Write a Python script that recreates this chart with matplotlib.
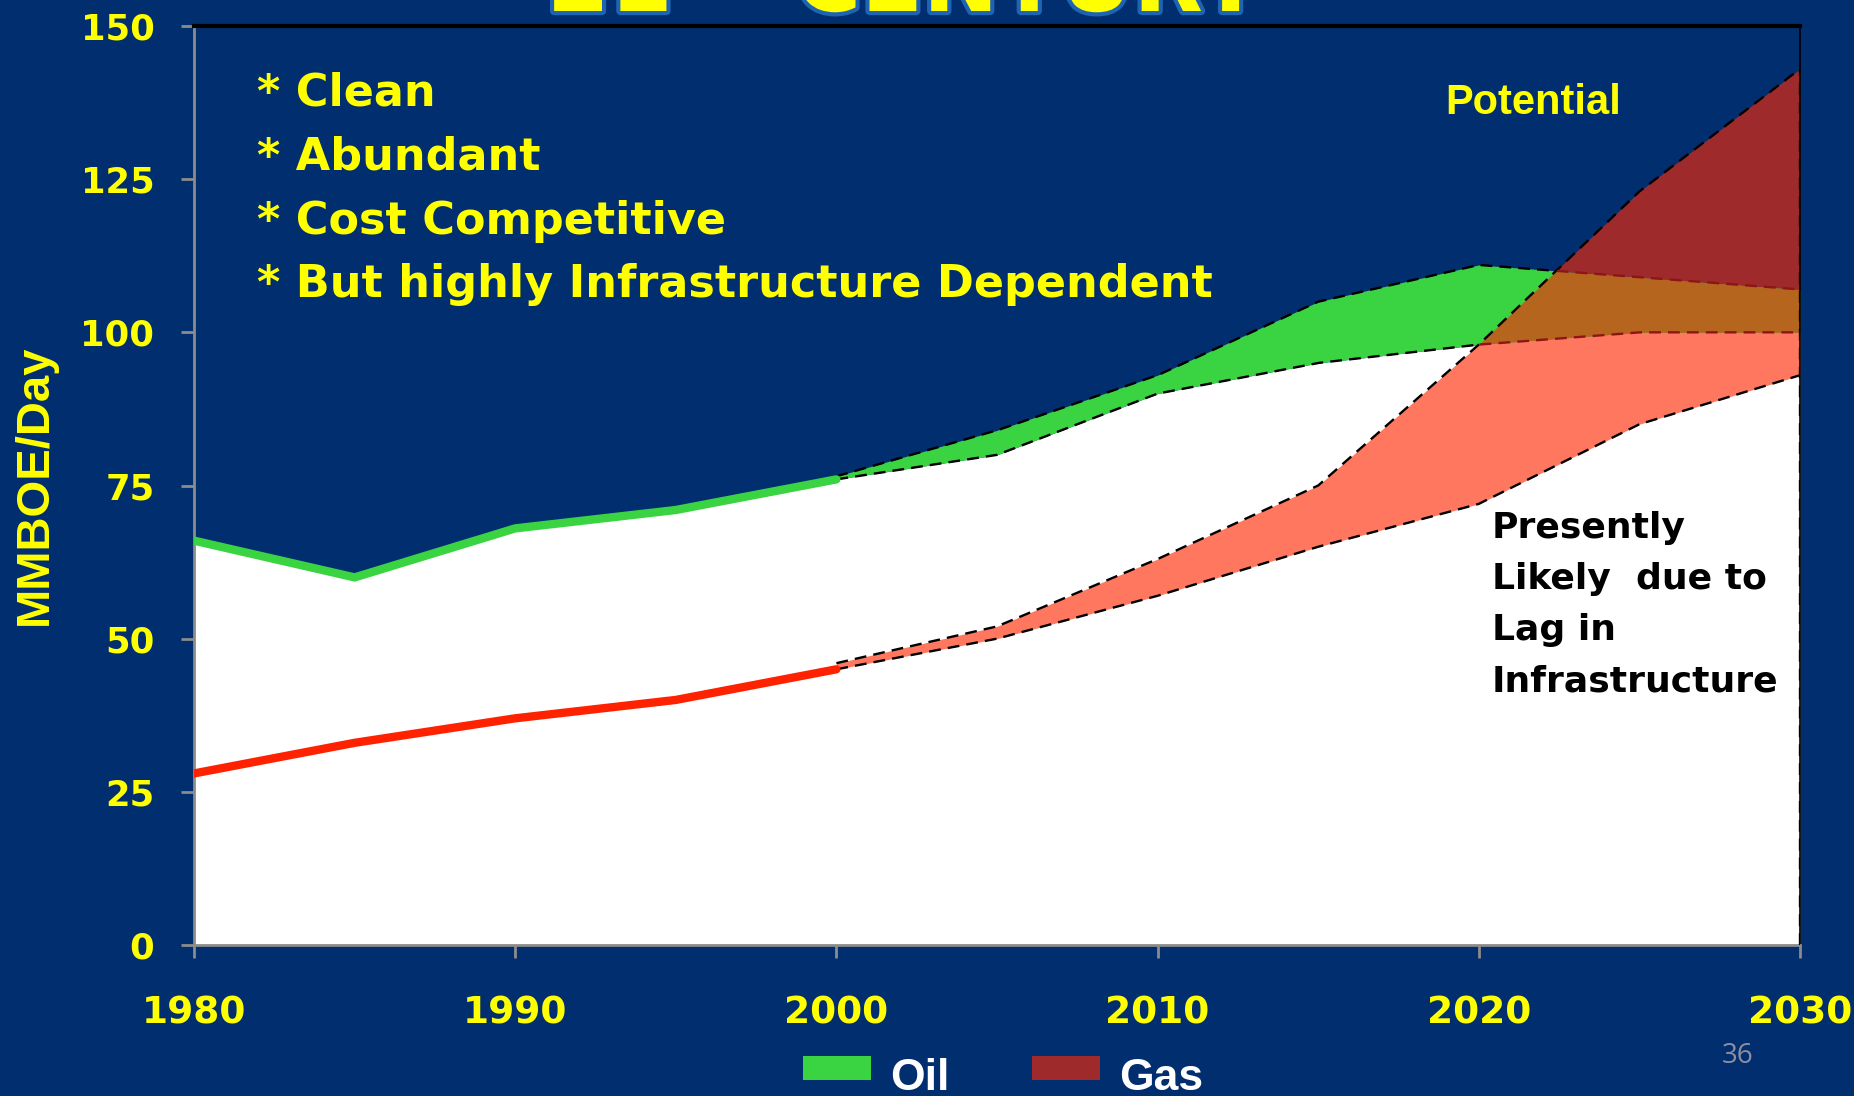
import matplotlib.pyplot as plt
import matplotlib.patheffects as pe
from matplotlib.patches import Rectangle
import numpy as np

# historical supply, MMBOE/day
years_hist = [1980, 1985, 1990, 1995, 2000]
oil_hist = [66, 60, 68, 71, 76]
gas_hist = [28, 33, 37, 40, 45]

# projections: "potential" (upper) and "likely" (lower) bounds
years_proj = [2000, 2005, 2010, 2015, 2020, 2025, 2030]
oil_potential = [76.5, 84, 93, 105, 111, 109, 107]
oil_likely = [76, 80, 90, 95, 98, 100, 100]
gas_potential = [46, 52, 63, 75, 98, 123, 143]
gas_likely = [45, 50, 57, 65, 72, 85, 93]

bullets = ["* Clean", "* Abundant", "* Cost Competitive",
           "* But highly Infrastructure Dependent"]
note_lines = ["Presently", "Likely  due to", "Lag in", "Infrastructure"]

NAVY = "#012E6F"
GREEN = "#3AD341"
SALMON = "#FF775E"
ORANGE = "#B5651D"
DARKRED = "#9E2A2B"
YELLOW = "#FFFF00"

plt.rcParams["font.family"] = ["DejaVu Sans"]
plt.rcParams["font.weight"] = "bold"

W, H = 1854, 1096
fig = plt.figure(figsize=(W / 100, H / 100), dpi=100, facecolor=NAVY)
ax = fig.add_axes([194 / W, 1 - 945 / H, (1800 - 194) / W, (945 - 26) / H], facecolor=NAVY)
ax.set_xlim(1980, 2030)
ax.set_ylim(0, 150)

# white area under the totals (history joined to the likely case)
years_all = years_hist + years_proj[1:]
total_all = oil_hist + oil_likely[1:]
ax.fill_between(years_all, 0, total_all, color="white", lw=0, zorder=1)

# bands on a fine grid so the overlaps can be split cleanly
xx = np.linspace(2000, 2030, 1201)
op = np.interp(xx, years_proj, oil_potential)
ol = np.interp(xx, years_proj, oil_likely)
gp = np.interp(xx, years_proj, gas_potential)
gl = np.interp(xx, years_proj, gas_likely)

ax.fill_between(xx, ol, op, where=op > ol, interpolate=True, color=GREEN, lw=0, zorder=1.2)
top = np.minimum(gp, ol)
ax.fill_between(xx, gl, top, where=top > gl, interpolate=True, color=SALMON, lw=0, zorder=1.2)
top = np.minimum(op, gp)
ax.fill_between(xx, ol, top, where=top > ol, interpolate=True, color=ORANGE, lw=0, zorder=1.3)
ax.fill_between(xx, op, gp, where=gp > op, interpolate=True, color=DARKRED, lw=0, zorder=1.3)

# dashed outlines of the bands
dash = dict(lw=1.7, dashes=(5, 3), zorder=4)
ax.plot(years_proj, gas_potential, color="black", **dash)
ax.plot(years_proj, gas_likely, color="black", **dash)
for line in (op, ol):
    inside = gp > line + 0.05
    ax.plot(xx, np.where(inside, np.nan, line), color="black", **dash)
    ax.plot(xx, np.where(inside, line, np.nan), color="#8E1515", **dash)
ax.vlines(2030, 0, gas_potential[-1], color="black", linestyles=(0, (5, 3)), lw=1.7, zorder=4)

# historical lines
ax.plot(years_hist, oil_hist, color=GREEN, lw=6, solid_capstyle="round",
        solid_joinstyle="round", zorder=5)
ax.plot(years_hist, gas_hist, color="#FF2200", lw=6, solid_capstyle="round",
        solid_joinstyle="round", zorder=5)

# axes styling
for side in ("left", "bottom"):
    ax.spines[side].set_color("#8C8C8C")
    ax.spines[side].set_linewidth(2)
ax.spines["top"].set_color("black")
ax.spines["top"].set_linewidth(3)
ax.spines["right"].set_color("black")
ax.spines["right"].set_linewidth(1.2)
ax.set_xticks(range(1980, 2031, 10))
ax.set_yticks(range(0, 151, 25))
ax.tick_params(colors="#8C8C8C", length=9.5, width=2, labelcolor=YELLOW)
ax.tick_params(axis="y", pad=19, labelsize=25.5)
ax.tick_params(axis="x", pad=27, labelsize=27)

fig.text(35 / W, 1 - 485 / H, "MMBOE/Day", rotation=90, color=YELLOW,
         fontsize=34, ha="center", va="center",
         family=["Liberation Sans", "DejaVu Sans"])

# heading, mostly off the top edge
glow = [pe.withStroke(linewidth=6, foreground="#1E64B4")]
fig.text(547 / W, 1 - 11 / H, "21", color=YELLOW, fontsize=65, va="baseline",
         path_effects=glow)
fig.text(795 / W, 1 - 11 / H, "CENTURY", color=YELLOW, fontsize=65, va="baseline",
         path_effects=glow)

for i, s in enumerate(bullets):
    fig.text(257 / W, 1 - (106 + 63.8 * i) / H, s, color=YELLOW, fontsize=32,
             va="baseline")

fig.text(1445 / W, 1 - 113.5 / H, "Potential", color=YELLOW, fontsize=30,
         va="baseline", family=["Liberation Sans", "DejaVu Sans"])

for i, s in enumerate(note_lines):
    fig.text(1492 / W, 1 - (538 + 51 * i) / H, s, color="black", fontsize=26,
             va="baseline")

# legend
for x0, label, col in ((803, "Oil", GREEN), (1032, "Gas", DARKRED)):
    fig.add_artist(Rectangle((x0 / W, 1 - 1080 / H), 68 / W, 24 / H,
                             transform=fig.transFigure, color=col, lw=0))
    fig.text((x0 + 87) / W, 1 - 1090 / H, label, color="white", fontsize=32,
             va="baseline", family=["Liberation Sans", "DejaVu Sans"])

fig.text(1738 / W, 1 - 1056 / H, "36", color="#8E8EA0", fontsize=20,
         fontweight="normal", ha="center", va="center", family=["Open Sans", "DejaVu Sans"])

fig.savefig("out.png", dpi=100, facecolor=NAVY)
